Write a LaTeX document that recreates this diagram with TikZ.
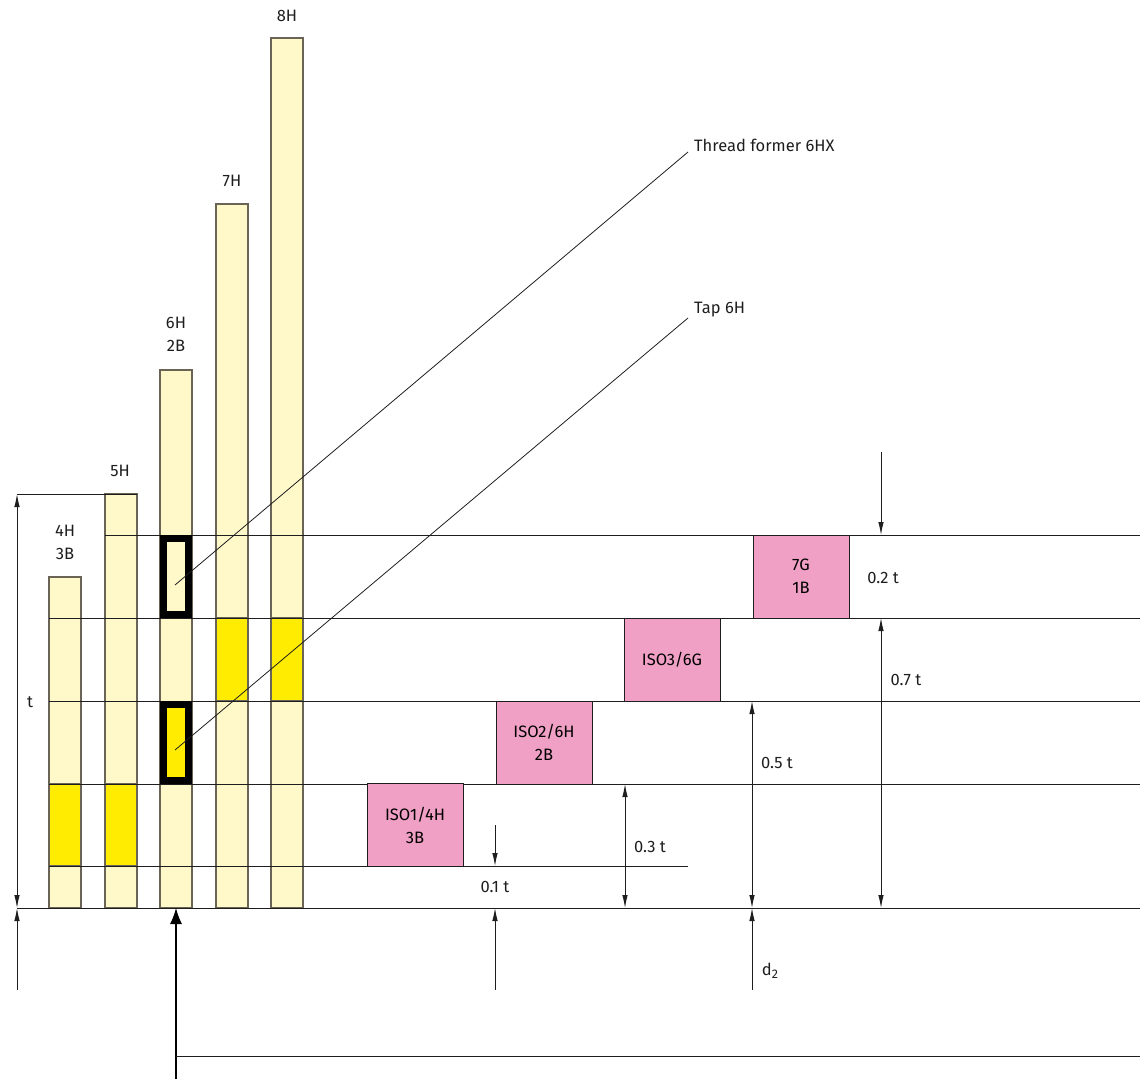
\documentclass[tikz,border=0pt]{standalone}
\usepackage{fontspec}
\setmainfont{Fira Sans}
\usetikzlibrary{arrows.meta}
\definecolor{pale}{RGB}{255,248,200}
\definecolor{yel}{RGB}{255,236,0}
\definecolor{pinkc}{RGB}{240,160,196}
\definecolor{bargray}{RGB}{105,100,85}
\definecolor{ink}{RGB}{30,30,30}
\tikzset{
  thin/.style={draw=ink, line width=0.9pt},
  bar/.style={fill=pale, draw=bargray, line width=1.1pt},
  yseg/.style={fill=yel, draw=bargray, line width=1.1pt},
  frame/.style={draw=black, line width=7pt},
  pinkbox/.style={fill=pinkc, draw=ink, line width=1pt, minimum width=96pt, minimum height=83pt, inner sep=0pt, align=center, font=\lbl},
  lab/.style={inner sep=0pt, align=center, font=\lbl, text=ink},
  arr/.style={thin, -{Latex[length=13pt,width=5.5pt]}},
  dim/.style={thin, {Latex[length=13pt,width=5.5pt]}-{Latex[length=13pt,width=5.5pt]}},
  bigarr/.style={draw=black, line width=1.1pt, -{Latex[length=16pt,width=12pt]}},
}
\newcommand{\lbl}{\fontsize{16.5}{23}\selectfont}
\begin{document}
\begin{tikzpicture}[x=1pt,y=-1pt]
\useasboundingbox (0,0) rectangle (1140,1079);
% bars
\draw[bar] (49,577) rectangle (81,908);
\draw[bar] (105,494) rectangle (137,908);
\draw[bar] (160,370) rectangle (192,908);
\draw[bar] (216,204) rectangle (248,908);
\draw[bar] (271,38) rectangle (303,908);
% yellow segments
\draw[yseg] (49,784) rectangle (81,866);
\draw[yseg] (105,784) rectangle (137,866);
\draw[yseg] (216,618) rectangle (248,701);
\draw[yseg] (271,618) rectangle (303,701);
% horizontal reference lines
\draw[thin] (17,908) -- (1140,908);
\draw[thin] (49,866) -- (688,866);
\draw[thin] (49,784) -- (1140,784);
\draw[thin] (49,701) -- (1140,701);
\draw[thin] (49,618) -- (1140,618);
\draw[thin] (105,535) -- (1140,535);
\draw[thin] (17,494) -- (137,494);
% thick frames on 6H bar
\draw[frame, fill=pale] (163.5,538.5) rectangle (188.5,614.5);
\draw[frame, fill=yel] (163.5,704.5) rectangle (188.5,780.5);
\coordinate (fa) at (175,585);
\coordinate (fb) at (175,750);
% bar labels
\node[lab] (l4) at (65,542) {4H\\3B};
\node[lab] (l5) at (120,471) {5H};
\node[lab] (l6) at (176,334) {6H\\2B};
\node[lab] (l7) at (232,181) {7H};
\node[lab] (l8) at (287,16) {8H};
\node[lab] (lt) at (30,702) {t};
% leaders
\node[lab, anchor=west] (tf) at (694,145) {Thread former 6HX};
\node[lab, anchor=west] (tap) at (694,310) {Tap 6H};
\coordinate (tfe) at (688,152);
\coordinate (tape) at (688,318);
\draw[thin, line width=0.8pt] (fa) -- (tfe);
\draw[thin, line width=0.8pt] (fb) -- (tape);
% pink boxes
\node[pinkbox] (iso1) at (415,825) {ISO1/4H\\3B};
\node[pinkbox] (iso2) at (544,742.5) {ISO2/6H\\2B};
\node[pinkbox] (iso3) at (672,659.5) {ISO3/6G};
\node[pinkbox] (g7) at (801,576.5) {7G\\1B};
% dimension coordinates
\coordinate (t1) at (17,494);
\coordinate (t2) at (17,908);
\coordinate (t3) at (17,990);
\coordinate (a1) at (495,825);
\coordinate (a2) at (495,866);
\coordinate (a3) at (495,990);
\coordinate (a4) at (495,908);
\coordinate (b1) at (625,784);
\coordinate (b2) at (625,908);
\coordinate (c1) at (752,701);
\coordinate (c2) at (752,908);
\coordinate (c3) at (752,990);
\coordinate (e1) at (881,618);
\coordinate (e2) at (881,908);
\coordinate (e3) at (881,452);
\coordinate (e4) at (881,535);
\coordinate (k1) at (176,1079);
\coordinate (k2) at (176,908);
\coordinate (k3) at (176,1056);
\coordinate (k4) at (1140,1056);
\draw[dim] (t1) -- (t2);
\draw[arr] (t3) -- (t2);
\draw[arr] (a1) -- (a2);
\draw[arr] (a3) -- (a4);
\draw[dim] (b1) -- (b2);
\draw[dim] (c1) -- (c2);
\draw[arr] (c3) -- (c2);
\draw[dim] (e1) -- (e2);
\draw[arr] (e3) -- (e4);
\draw[bigarr] (k1) -- (k2);
\draw[thin] (k3) -- (k4);
% dimension labels
\node[lab] (d01) at (495,887) {0.1 t};
\node[lab] (d03) at (650,847) {0.3 t};
\node[lab] (d05) at (777,763) {0.5 t};
\node[lab] (d07) at (906,680) {0.7 t};
\node[lab] (d02) at (883,578) {0.2 t};
\node[lab] (dd2) at (770,971) {d{\fontsize{12.5}{13}\selectfont\raisebox{-3.5pt}{2}}};
\end{tikzpicture}
\end{document}
